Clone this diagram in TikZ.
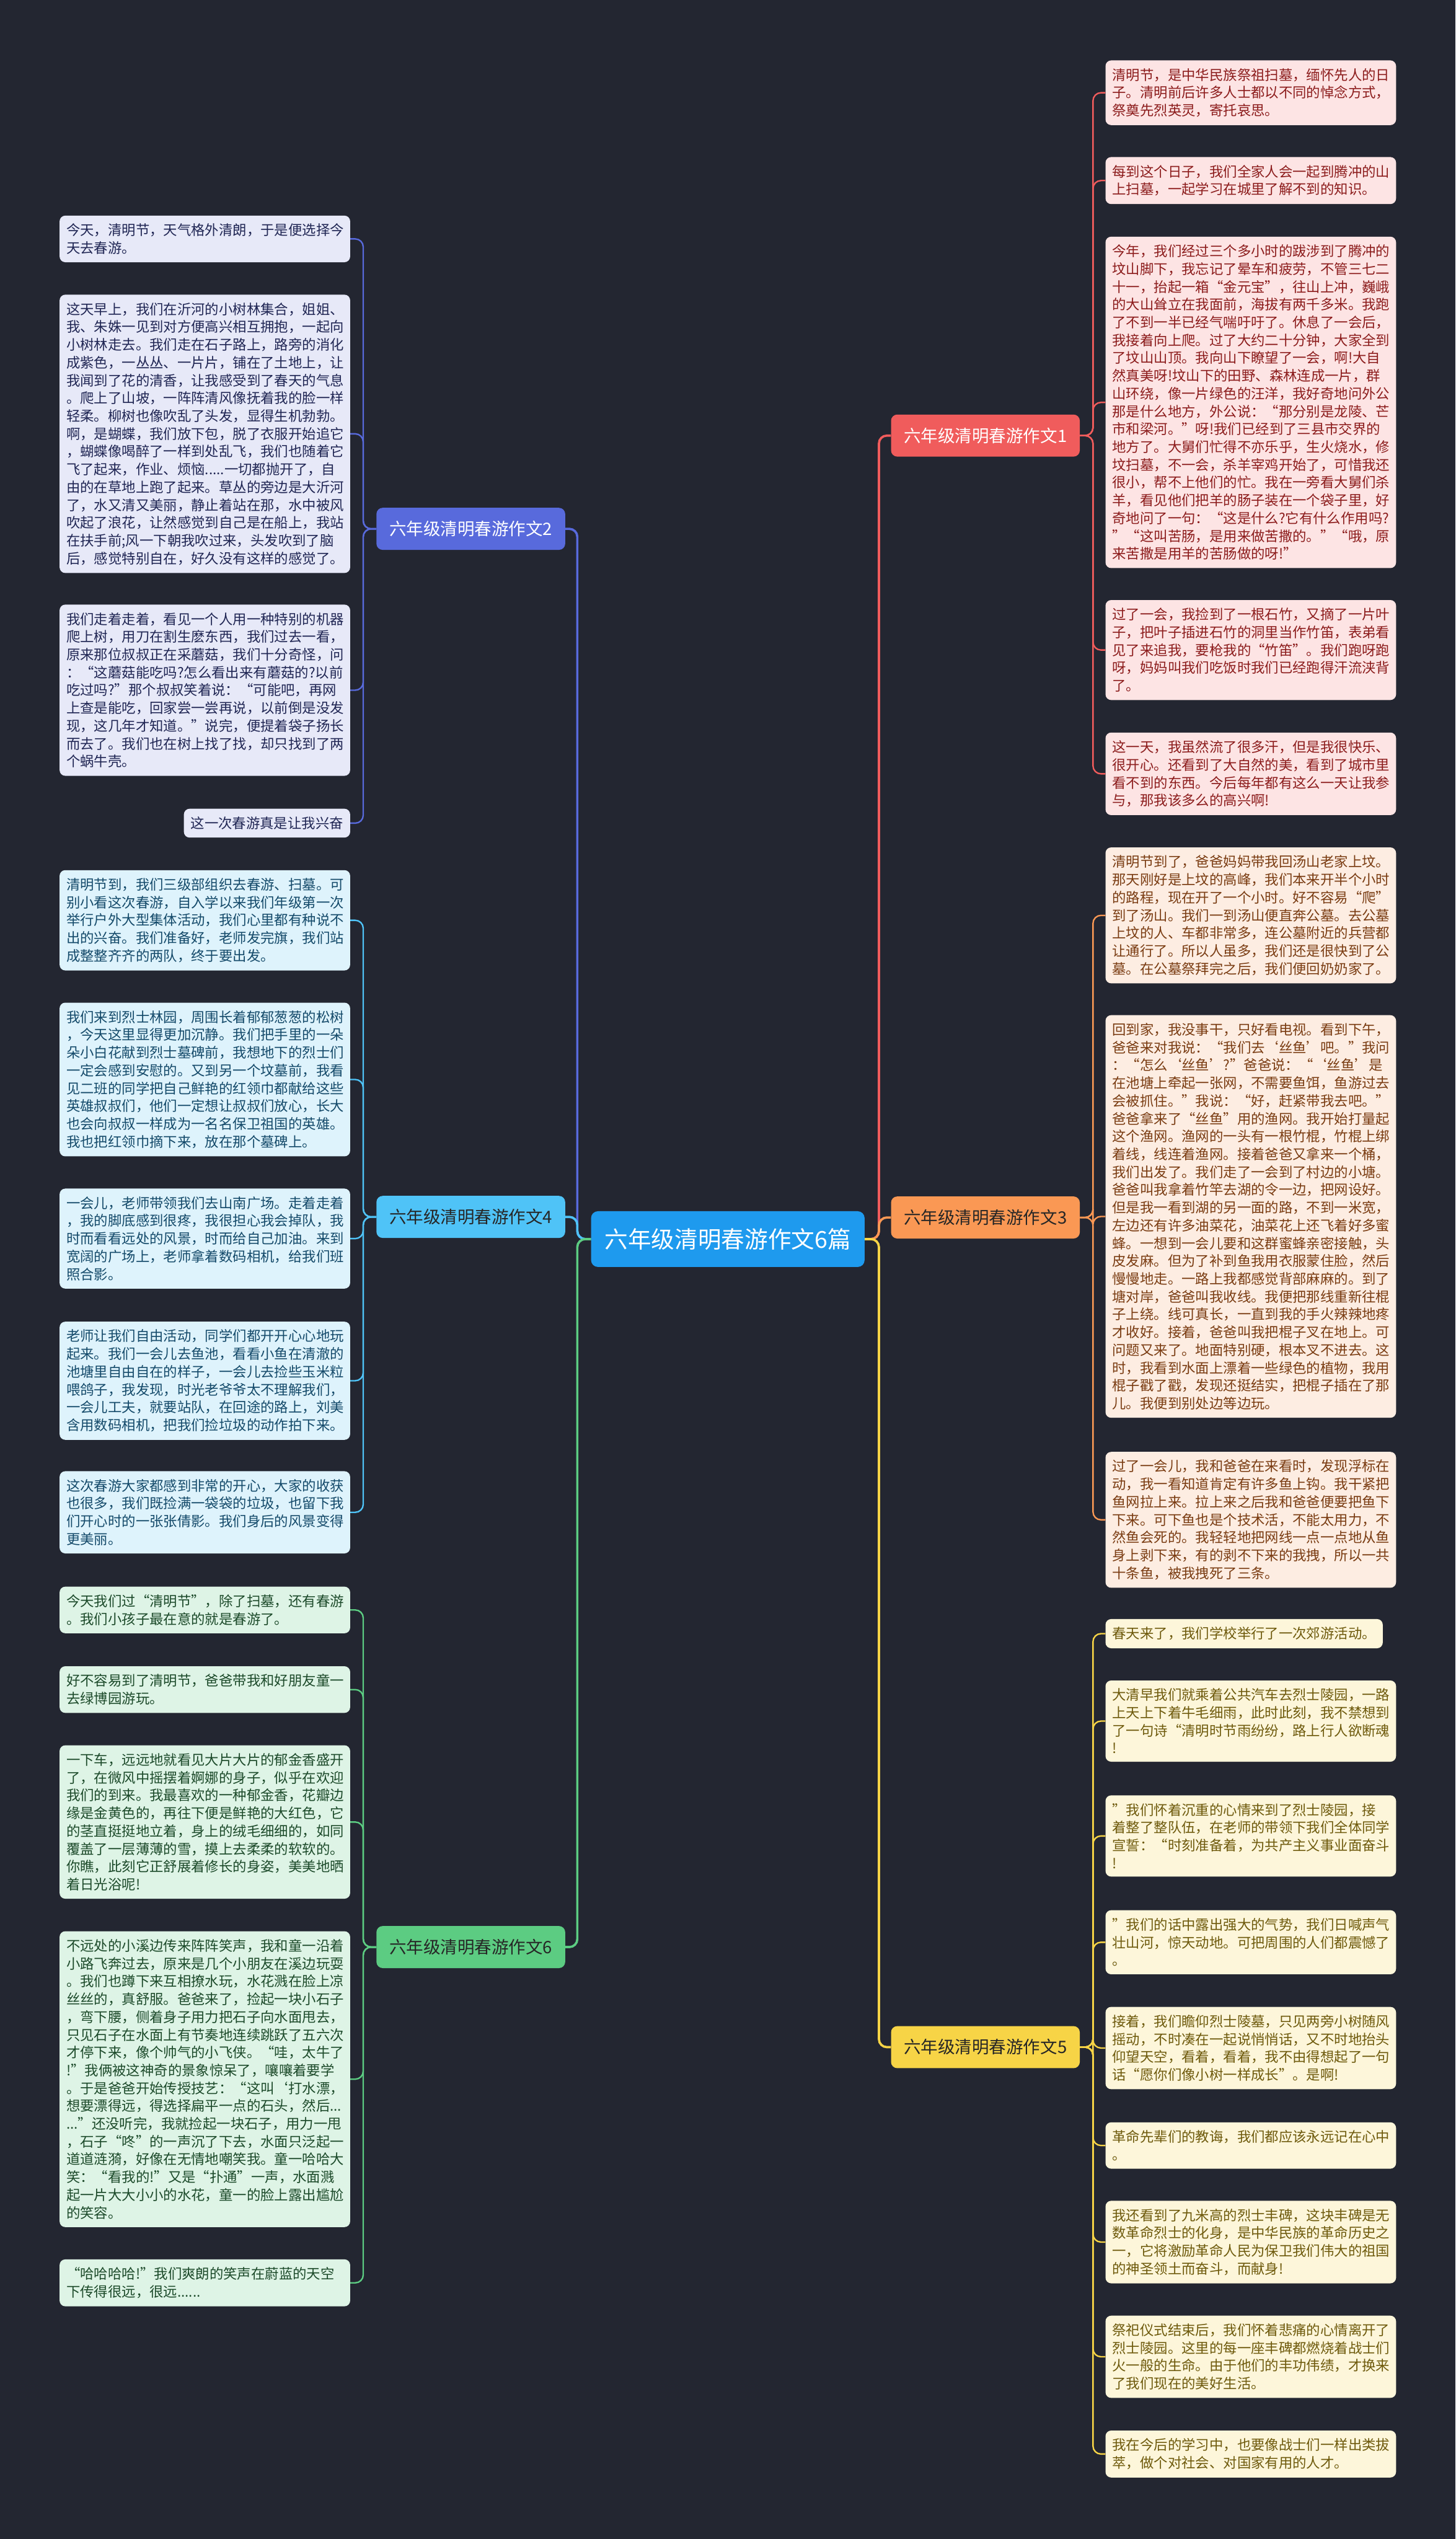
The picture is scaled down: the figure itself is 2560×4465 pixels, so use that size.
\documentclass[tikz,border=0pt]{standalone}
\usepackage{fontspec}
\setmainfont{Noto Sans CJK SC}

\definecolor{bgcol}{RGB}{35,38,49}
\definecolor{rootfill}{RGB}{30,154,238}
\definecolor{c1}{RGB}{240,92,92}
\definecolor{c2}{RGB}{88,106,220}
\definecolor{c3}{RGB}{250,152,84}
\definecolor{c4}{RGB}{79,195,247}
\definecolor{c5}{RGB}{247,212,70}
\definecolor{c6}{RGB}{92,204,130}
\definecolor{f1}{RGB}{253,228,228}
\definecolor{f2}{RGB}{231,233,248}
\definecolor{f3}{RGB}{253,237,226}
\definecolor{f4}{RGB}{222,243,252}
\definecolor{f5}{RGB}{253,246,218}
\definecolor{f6}{RGB}{222,244,230}
\definecolor{t1}{RGB}{140,28,28}
\definecolor{t2}{RGB}{32,38,84}
\definecolor{t3}{RGB}{122,60,18}
\definecolor{t4}{RGB}{20,74,106}
\definecolor{t5}{RGB}{110,90,12}
\definecolor{t6}{RGB}{28,74,42}

\begin{document}
\begin{tikzpicture}[x=1pt,y=-1pt]
\tikzset{
  rootnode/.style={rectangle,rounded corners=12pt,fill=rootfill,text=white,minimum width=481pt,minimum height=98pt,inner sep=0pt,font=\fontsize{41}{48}\selectfont},
  branchnode/.style={rectangle,rounded corners=11pt,minimum width=332pt,minimum height=74pt,inner sep=0pt,font=\fontsize{30}{36}\selectfont},
  leafnode/.style={rectangle,rounded corners=10pt,align=left,inner xsep=12pt,inner ysep=14pt,font=\fontsize{24.4}{31.3}\selectfont},
  wide/.style={text width=487pt},
  leaf1/.style={leafnode,fill=f1,text=t1},
  leaf2/.style={leafnode,fill=f2,text=t2},
  leaf3/.style={leafnode,fill=f3,text=t3},
  leaf4/.style={leafnode,fill=f4,text=t4},
  leaf5/.style={leafnode,fill=f5,text=t5},
  leaf6/.style={leafnode,fill=f6,text=t6},
  trunk/.style={line width=4pt,rounded corners=14pt},
  twig/.style={line width=2.6pt,rounded corners=14pt}
}
\fill[bgcol] (0,0) rectangle (2560,4465);

% centre and branches
\node[rootnode] (n_root) at (1280,2179) {六年级清明春游作文6篇};
\node[branchnode,fill=c1,text=white] (n_b1) at (1733,766) {六年级清明春游作文1};
\node[branchnode,fill=c2,text=white] (n_b2) at (828,930) {六年级清明春游作文2};
\node[branchnode,fill=c3,text=black!85] (n_b3) at (1733,2141) {六年级清明春游作文3};
\node[branchnode,fill=c4,text=black!85] (n_b4) at (828,2140) {六年级清明春游作文4};
\node[branchnode,fill=c5,text=black!85] (n_b5) at (1733,3600) {六年级清明春游作文5};
\node[branchnode,fill=c6,text=black!85] (n_b6) at (828,3424) {六年级清明春游作文6};

% left side leaves
\node[leaf2,wide,anchor=north east] (n_l2a) at (616,379) {今天，清明节，天气格外清朗，于是便选择今\\天去春游。};
\node[leaf2,wide,anchor=north east] (n_l2b) at (616,518) {这天早上，我们在沂河的小树林集合，姐姐、\\我、朱姝一见到对方便高兴相互拥抱，一起向\\小树林走去。我们走在石子路上，路旁的消化\\成紫色，一丛丛、一片片，铺在了土地上，让\\我闻到了花的清香，让我感受到了春天的气息\\。爬上了山坡，一阵阵清风像抚着我的脸一样\\轻柔。柳树也像吹乱了头发，显得生机勃勃。\\啊，是蝴蝶，我们放下包，脱了衣服开始追它\\，蝴蝶像喝醉了一样到处乱飞，我们也随着它\\飞了起来，作业、烦恼.....一切都抛开了，自\\由的在草地上跑了起来。草丛的旁边是大沂河\\了，水又清又美丽，静止着站在那，水中被风\\吹起了浪花，让然感觉到自己是在船上，我站\\在扶手前;风一下朝我吹过来，头发吹到了脑\\后，感觉特别自在，好久没有这样的感觉了。};
\node[leaf2,wide,anchor=north east] (n_l2c) at (616,1063) {我们走着走着，看见一个人用一种特别的机器\\爬上树，用刀在割生麽东西，我们过去一看，\\原来那位叔叔正在采蘑菇，我们十分奇怪，问\\：“这蘑菇能吃吗?怎么看出来有蘑菇的?以前\\吃过吗?”那个叔叔笑着说：“可能吧，再网\\上查是能吃，回家尝一尝再说，以前倒是没发\\现，这几年才知道。”说完，便提着袋子扬长\\而去了。我们也在树上找了找，却只找到了两\\个蜗牛壳。};
\node[leaf2,anchor=north east] (n_l2d) at (616,1422) {这一次春游真是让我兴奋};
\node[leaf4,wide,anchor=north east] (n_l4a) at (616,1530) {清明节到，我们三级部组织去春游、扫墓。可\\别小看这次春游，自入学以来我们年级第一次\\举行户外大型集体活动，我们心里都有种说不\\出的兴奋。我们准备好，老师发完旗，我们站\\成整整齐齐的两队，终于要出发。};
\node[leaf4,wide,anchor=north east] (n_l4b) at (616,1763) {我们来到烈士林园，周围长着郁郁葱葱的松树\\，今天这里显得更加沉静。我们把手里的一朵\\朵小白花献到烈士墓碑前，我想地下的烈士们\\一定会感到安慰的。又到另一个坟墓前，我看\\见二班的同学把自己鲜艳的红领巾都献给这些\\英雄叔叔们，他们一定想让叔叔们放心，长大\\也会向叔叔一样成为一名名保卫祖国的英雄。\\我也把红领巾摘下来，放在那个墓碑上。};
\node[leaf4,wide,anchor=north east] (n_l4c) at (616,2090) {一会儿，老师带领我们去山南广场。走着走着\\，我的脚底感到很疼，我很担心我会掉队，我\\时而看看远处的风景，时而给自己加油。来到\\宽阔的广场上，老师拿着数码相机，给我们班\\照合影。};
\node[leaf4,wide,anchor=north east] (n_l4d) at (616,2324) {老师让我们自由活动，同学们都开开心心地玩\\起来。我们一会儿去鱼池，看看小鱼在清澈的\\池塘里自由自在的样子，一会儿去捡些玉米粒\\喂鸽子，我发现，时光老爷爷太不理解我们，\\一会儿工夫，就要站队，在回途的路上，刘美\\含用数码相机，把我们捡垃圾的动作拍下来。};
\node[leaf4,wide,anchor=north east] (n_l4e) at (616,2587) {这次春游大家都感到非常的开心，大家的收获\\也很多，我们既捡满一袋袋的垃圾，也留下我\\们开心时的一张张倩影。我们身后的风景变得\\更美丽。};
\node[leaf6,wide,anchor=north east] (n_l6a) at (616,2790) {今天我们过“清明节”，除了扫墓，还有春游\\。我们小孩子最在意的就是春游了。};
\node[leaf6,wide,anchor=north east] (n_l6b) at (616,2930) {好不容易到了清明节，爸爸带我和好朋友童一\\去绿博园游玩。};
\node[leaf6,wide,anchor=north east] (n_l6c) at (616,3069) {一下车，远远地就看见大片大片的郁金香盛开\\了，在微风中摇摆着婀娜的身子，似乎在欢迎\\我们的到来。我最喜欢的一种郁金香，花瓣边\\缘是金黄色的，再往下便是鲜艳的大红色，它\\的茎直挺挺地立着，身上的绒毛细细的，如同\\覆盖了一层薄薄的雪，摸上去柔柔的软软的。\\你瞧，此刻它正舒展着修长的身姿，美美地晒\\着日光浴呢!};
\node[leaf6,wide,anchor=north east] (n_l6d) at (616,3396) {不远处的小溪边传来阵阵笑声，我和童一沿着\\小路飞奔过去，原来是几个小朋友在溪边玩耍\\。我们也蹲下来互相撩水玩，水花溅在脸上凉\\丝丝的，真舒服。爸爸来了，捡起一块小石子\\，弯下腰，侧着身子用力把石子向水面甩去，\\只见石子在水面上有节奏地连续跳跃了五六次\\才停下来，像个帅气的小飞侠。“哇，太牛了\\!”我俩被这神奇的景象惊呆了，嚷嚷着要学\\。于是爸爸开始传授技艺：“这叫‘打水漂，\\想要漂得远，得选择扁平一点的石头，然后...\\...”还没听完，我就捡起一块石子，用力一甩\\，石子“咚”的一声沉了下去，水面只泛起一\\道道涟漪，好像在无情地嘲笑我。童一哈哈大\\笑：“看我的!”又是“扑通”一声，水面溅\\起一片大大小小的水花，童一的脸上露出尴尬\\的笑容。};
\node[leaf6,wide,anchor=north east] (n_l6e) at (616,3973) {“哈哈哈哈!”我们爽朗的笑声在蔚蓝的天空\\下传得很远，很远......};

% right side leaves
\node[leaf1,wide,anchor=north west] (n_r1a) at (1944,106) {清明节，是中华民族祭祖扫墓，缅怀先人的日\\子。清明前后许多人士都以不同的悼念方式，\\祭奠先烈英灵，寄托哀思。};
\node[leaf1,wide,anchor=north west] (n_r1b) at (1944,276) {每到这个日子，我们全家人会一起到腾冲的山\\上扫墓，一起学习在城里了解不到的知识。};
\node[leaf1,wide,anchor=north west] (n_r1c) at (1944,416) {今年，我们经过三个多小时的跋涉到了腾冲的\\坟山脚下，我忘记了晕车和疲劳，不管三七二\\十一，抬起一箱“金元宝”，往山上冲，巍峨\\的大山耸立在我面前，海拔有两千多米。我跑\\了不到一半已经气喘吁吁了。休息了一会后，\\我接着向上爬。过了大约二十分钟，大家全到\\了坟山山顶。我向山下瞭望了一会，啊!大自\\然真美呀!坟山下的田野、森林连成一片，群\\山环绕，像一片绿色的汪洋，我好奇地问外公\\那是什么地方，外公说：“那分别是龙陵、芒\\市和梁河。”呀!我们已经到了三县市交界的\\地方了。大舅们忙得不亦乐乎，生火烧水，修\\坟扫墓，不一会，杀羊宰鸡开始了，可惜我还\\很小，帮不上他们的忙。我在一旁看大舅们杀\\羊，看见他们把羊的肠子装在一个袋子里，好\\奇地问了一句：“这是什么?它有什么作用吗?\\”“这叫苦肠，是用来做苦撒的。”“哦，原\\来苦撒是用羊的苦肠做的呀!”};
\node[leaf1,wide,anchor=north west] (n_r1d) at (1944,1055) {过了一会，我捡到了一根石竹，又摘了一片叶\\子，把叶子插进石竹的洞里当作竹笛，表弟看\\见了来追我，要枪我的“竹笛”。我们跑呀跑\\呀，妈妈叫我们吃饭时我们已经跑得汗流浃背\\了。};
\node[leaf1,wide,anchor=north west] (n_r1e) at (1944,1288) {这一天，我虽然流了很多汗，但是我很快乐、\\很开心。还看到了大自然的美，看到了城市里\\看不到的东西。今后每年都有这么一天让我参\\与，那我该多么的高兴啊!};
\node[leaf3,wide,anchor=north west] (n_r3a) at (1944,1490) {清明节到了，爸爸妈妈带我回汤山老家上坟。\\那天刚好是上坟的高峰，我们本来开半个小时\\的路程，现在开了一个小时。好不容易“爬”\\到了汤山。我们一到汤山便直奔公墓。去公墓\\上坟的人、车都非常多，连公墓附近的兵营都\\让通行了。所以人虽多，我们还是很快到了公\\墓。在公墓祭拜完之后，我们便回奶奶家了。};
\node[leaf3,wide,anchor=north west] (n_r3b) at (1944,1785) {回到家，我没事干，只好看电视。看到下午，\\爸爸来对我说：“我们去‘丝鱼’吧。”我问\\：“怎么‘丝鱼’?”爸爸说：“‘丝鱼’是\\在池塘上牵起一张网，不需要鱼饵，鱼游过去\\会被抓住。”我说：“好，赶紧带我去吧。”\\爸爸拿来了“丝鱼”用的渔网。我开始打量起\\这个渔网。渔网的一头有一根竹棍，竹棍上绑\\着线，线连着渔网。接着爸爸又拿来一个桶，\\我们出发了。我们走了一会到了村边的小塘。\\爸爸叫我拿着竹竿去湖的令一边，把网设好。\\但是我一看到湖的另一面的路，不到一米宽，\\左边还有许多油菜花，油菜花上还飞着好多蜜\\蜂。一想到一会儿要和这群蜜蜂亲密接触，头\\皮发麻。但为了补到鱼我用衣服蒙住脸，然后\\慢慢地走。一路上我都感觉背部麻麻的。到了\\塘对岸，爸爸叫我收线。我便把那线重新往棍\\子上绕。线可真长，一直到我的手火辣辣地疼\\才收好。接着，爸爸叫我把棍子叉在地上。可\\问题又来了。地面特别硬，根本叉不进去。这\\时，我看到水面上漂着一些绿色的植物，我用\\棍子戳了戳，发现还挺结实，把棍子插在了那\\儿。我便到别处边等边玩。};
\node[leaf3,wide,anchor=north west] (n_r3c) at (1944,2553) {过了一会儿，我和爸爸在来看时，发现浮标在\\动，我一看知道肯定有许多鱼上钩。我干紧把\\鱼网拉上来。拉上来之后我和爸爸便要把鱼下\\下来。可下鱼也是个技术活，不能太用力，不\\然鱼会死的。我轻轻地把网线一点一点地从鱼\\身上剥下来，有的剥不下来的我拽，所以一共\\十条鱼，被我拽死了三条。};
\node[leaf5,anchor=north west] (n_r5a) at (1944,2847) {春天来了，我们学校举行了一次郊游活动。};
\node[leaf5,wide,anchor=north west] (n_r5b) at (1944,2955) {大清早我们就乘着公共汽车去烈士陵园，一路\\上天上下着牛毛细雨，此时此刻，我不禁想到\\了一句诗“清明时节雨纷纷，路上行人欲断魂\\!};
\node[leaf5,wide,anchor=north west] (n_r5c) at (1944,3157) {”我们怀着沉重的心情来到了烈士陵园，接\\着整了整队伍，在老师的带领下我们全体同学\\宣誓：“时刻准备着，为共产主义事业面奋斗\\!};
\node[leaf5,wide,anchor=north west] (n_r5d) at (1944,3359) {”我们的话中露出强大的气势，我们日喊声气\\壮山河，惊天动地。可把周围的人们都震憾了\\。};
\node[leaf5,wide,anchor=north west] (n_r5e) at (1944,3529) {接着，我们瞻仰烈士陵墓，只见两旁小树随风\\摇动，不时凑在一起说悄悄话，又不时地抬头\\仰望天空，看着，看着，我不由得想起了一句\\话“愿你们像小树一样成长”。是啊!};
\node[leaf5,wide,anchor=north west] (n_r5f) at (1944,3732) {革命先辈们的教诲，我们都应该永远记在心中\\。};
\node[leaf5,wide,anchor=north west] (n_r5g) at (1944,3870) {我还看到了九米高的烈士丰碑，这块丰碑是无\\数革命烈士的化身，是中华民族的革命历史之\\一，它将激励革命人民为保卫我们伟大的祖国\\的神圣领土而奋斗，而献身!};
\node[leaf5,wide,anchor=north west] (n_r5h) at (1944,4072) {祭祀仪式结束后，我们怀着悲痛的心情离开了\\烈士陵园。这里的每一座丰碑都燃烧着战士们\\火一般的生命。由于他们的丰功伟绩，才换来\\了我们现在的美好生活。};
\node[leaf5,wide,anchor=north west] (n_r5i) at (1944,4274) {我在今后的学习中，也要像战士们一样出类拔\\萃，做个对社会、对国家有用的人才。};

% centre to branches
\draw[trunk,c1] (n_root.east) -- ++(25,0) |- (n_b1.west);
\draw[trunk,c3] (n_root.east) -- ++(25,0) |- (n_b3.west);
\draw[trunk,c5] (n_root.east) -- ++(25,0) |- (n_b5.west);
\draw[trunk,c2] (n_root.west) -- ++(-24,0) |- (n_b2.east);
\draw[trunk,c4] (n_root.west) -- ++(-24,0) |- (n_b4.east);
\draw[trunk,c6] (n_root.west) -- ++(-24,0) |- (n_b6.east);

% branches to leaves
\foreach \leaf in {l2a,l2b,l2c,l2d}
  \draw[twig,c2] (n_b2.west) -- ++(-23,0) |- (n_\leaf.east);
\foreach \leaf in {l4a,l4b,l4c,l4d,l4e}
  \draw[twig,c4] (n_b4.west) -- ++(-23,0) |- (n_\leaf.east);
\foreach \leaf in {l6a,l6b,l6c,l6d,l6e}
  \draw[twig,c6] (n_b6.west) -- ++(-23,0) |- (n_\leaf.east);
\foreach \leaf in {r1a,r1b,r1c,r1d,r1e}
  \draw[twig,c1] (n_b1.east) -- ++(23,0) |- (n_\leaf.west);
\foreach \leaf in {r3a,r3b,r3c}
  \draw[twig,c3] (n_b3.east) -- ++(23,0) |- (n_\leaf.west);
\foreach \leaf in {r5a,r5b,r5c,r5d,r5e,r5f,r5g,r5h,r5i}
  \draw[twig,c5] (n_b5.east) -- ++(23,0) |- (n_\leaf.west);
\end{tikzpicture}
\end{document}
